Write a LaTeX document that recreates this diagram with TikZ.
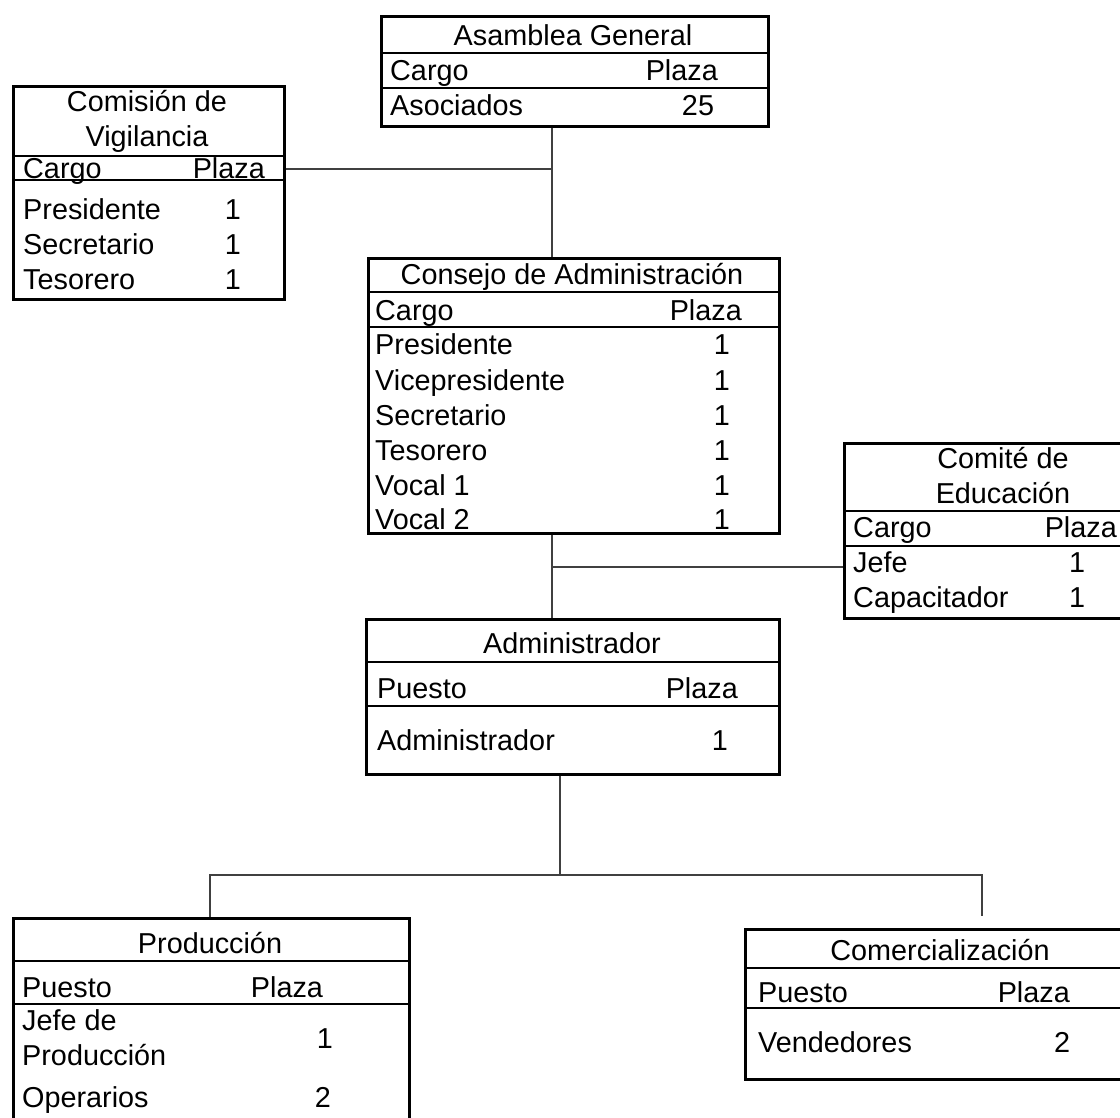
\documentclass[tikz,border=0pt]{standalone}
\usepackage{fontspec}
\setmainfont{Liberation Sans}
\begin{document}
\begin{tikzpicture}[x=1pt,y=-1pt,
  box/.style={draw, line width=2.6pt, inner sep=0pt, anchor=north west},
  sepl/.style={line width=2.6pt},
  conn/.style={line width=1.5pt, draw=black!75},
  lt/.style={anchor=base west, inner sep=0pt},
  rt/.style={anchor=base east, inner sep=0pt},
  ct/.style={anchor=base, inner sep=0pt},
  every node/.append style={font=\fontsize{28.8}{34}\selectfont}]
\useasboundingbox (0,0) rectangle (1120,1118);
\clip (0,0) rectangle (1120,1118);

% boxes
\node[box, minimum width=387pt, minimum height=110pt] (asamblea) at (380,15) {};
\node[box, minimum width=271pt, minimum height=213pt] (comision) at (12,85) {};
\node[box, minimum width=411pt, minimum height=275pt] (consejo) at (367,257) {};
\node[box, minimum width=320pt, minimum height=175pt] (comite) at (843,442) {};
\node[box, minimum width=413pt, minimum height=155pt] (admin) at (365,618) {};
\node[box, minimum width=396pt, minimum height=223pt] (produccion) at (12,917) {};
\node[box, minimum width=392pt, minimum height=150pt] (comercial) at (744,928) {};

% separators
\foreach \n/\ya/\yb in {asamblea/53/88, comision/156/180, consejo/292/327, comite/511/546, admin/662/706, produccion/961/1004, comercial/968/1008}{
  \draw[sepl] (\n.west |- 0,\ya) -- (\n.east |- 0,\ya);
  \draw[sepl] (\n.west |- 0,\yb) -- (\n.east |- 0,\yb);
}

% Asamblea General
\node[ct] (ag-t) at (573,46) {Asamblea General};
\node[lt] (ag-c) at (390,81) {Cargo};
\node[rt] (ag-p) at (718,81) {Plaza};
\node[lt] (ag-r1) at (390,116) {Asociados};
\node[ct] (ag-n1) at (698,116) {25};

% Comision de Vigilancia
\node[ct] (cv-t1) at (147,112) {Comisión de};
\node[ct] (cv-t2) at (147,147) {Vigilancia};
\node[lt] (cv-c) at (23,179) {Cargo};
\node[rt] (cv-p) at (265,179) {Plaza};
\node[lt] (cv-r1) at (23,220) {Presidente};
\node[ct] (cv-n1) at (233,220) {1};
\node[lt] (cv-r2) at (23,255) {Secretario};
\node[ct] (cv-n2) at (233,255) {1};
\node[lt] (cv-r3) at (23,290) {Tesorero};
\node[ct] (cv-n3) at (233,290) {1};

% Consejo de Administracion
\node[ct] (ca-t) at (572,285) {Consejo de Administración};
\node[lt] (ca-c) at (375,320) {Cargo};
\node[rt] (ca-p) at (742,320) {Plaza};
\node[lt] (ca-r1) at (375,355) {Presidente};
\node[ct] (ca-n1) at (722,355) {1};
\node[lt] (ca-r2) at (375,390) {Vicepresidente};
\node[ct] (ca-n2) at (722,390) {1};
\node[lt] (ca-r3) at (375,425) {Secretario};
\node[ct] (ca-n3) at (722,425) {1};
\node[lt] (ca-r4) at (375,460) {Tesorero};
\node[ct] (ca-n4) at (722,460) {1};
\node[lt] (ca-r5) at (375,495) {Vocal 1};
\node[ct] (ca-n5) at (722,495) {1};
\node[lt] (ca-r6) at (375,529) {Vocal 2};
\node[ct] (ca-n6) at (722,529) {1};

% Comite de Educacion
\node[ct] (ce-t1) at (1003,468) {Comité de};
\node[ct] (ce-t2) at (1003,503) {Educación};
\node[lt] (ce-c) at (853,537) {Cargo};
\node[rt] (ce-p) at (1117,537) {Plaza};
\node[lt] (ce-r1) at (853,572) {Jefe};
\node[ct] (ce-n1) at (1077,572) {1};
\node[lt] (ce-r2) at (853,607) {Capacitador};
\node[ct] (ce-n2) at (1077,607) {1};

% Administrador
\node[ct] (ad-t) at (572,653) {Administrador};
\node[lt] (ad-c) at (377,698) {Puesto};
\node[rt] (ad-p) at (738,698) {Plaza};
\node[lt] (ad-r1) at (377,750) {Administrador};
\node[ct] (ad-n1) at (720,750) {1};

% Produccion
\node[ct] (pr-t) at (210,953) {Producción};
\node[lt] (pr-c) at (22,997) {Puesto};
\node[ct] (pr-p) at (287,997) {Plaza};
\node[lt] (pr-r1a) at (22,1030) {Jefe de};
\node[lt] (pr-r1b) at (22,1065) {Producción};
\node[ct] (pr-n1) at (325,1048) {1};
\node[lt] (pr-r2) at (22,1107) {Operarios};
\node[ct] (pr-n2) at (323,1107) {2};

% Comercializacion
\node[ct] (co-t) at (940,960) {Comercialización};
\node[lt] (co-c) at (758,1002) {Puesto};
\node[rt] (co-p) at (1070,1002) {Plaza};
\node[lt] (co-r1) at (758,1052) {Vendedores};
\node[ct] (co-n1) at (1062,1052) {2};

% connectors
\coordinate (v1) at (552,169);
\coordinate (v2) at (552,567);
\coordinate (v3) at (560,875);
\coordinate (pl) at (210,875);
\coordinate (pr) at (982,875);
\coordinate (pe) at (982,916);
\draw[conn] (asamblea.south -| v1) -- (consejo.north -| v1);
\draw[conn] (comision.east |- v1) -- (v1);
\draw[conn] (consejo.south -| v2) -- (admin.north -| v2);
\draw[conn] (v2) -- (comite.west |- v2);
\draw[conn] (admin.south -| v3) -- (v3);
\draw[conn] (produccion.north -| pl) -- (pl) -- (pr) -- (pe);
\end{tikzpicture}
\end{document}
